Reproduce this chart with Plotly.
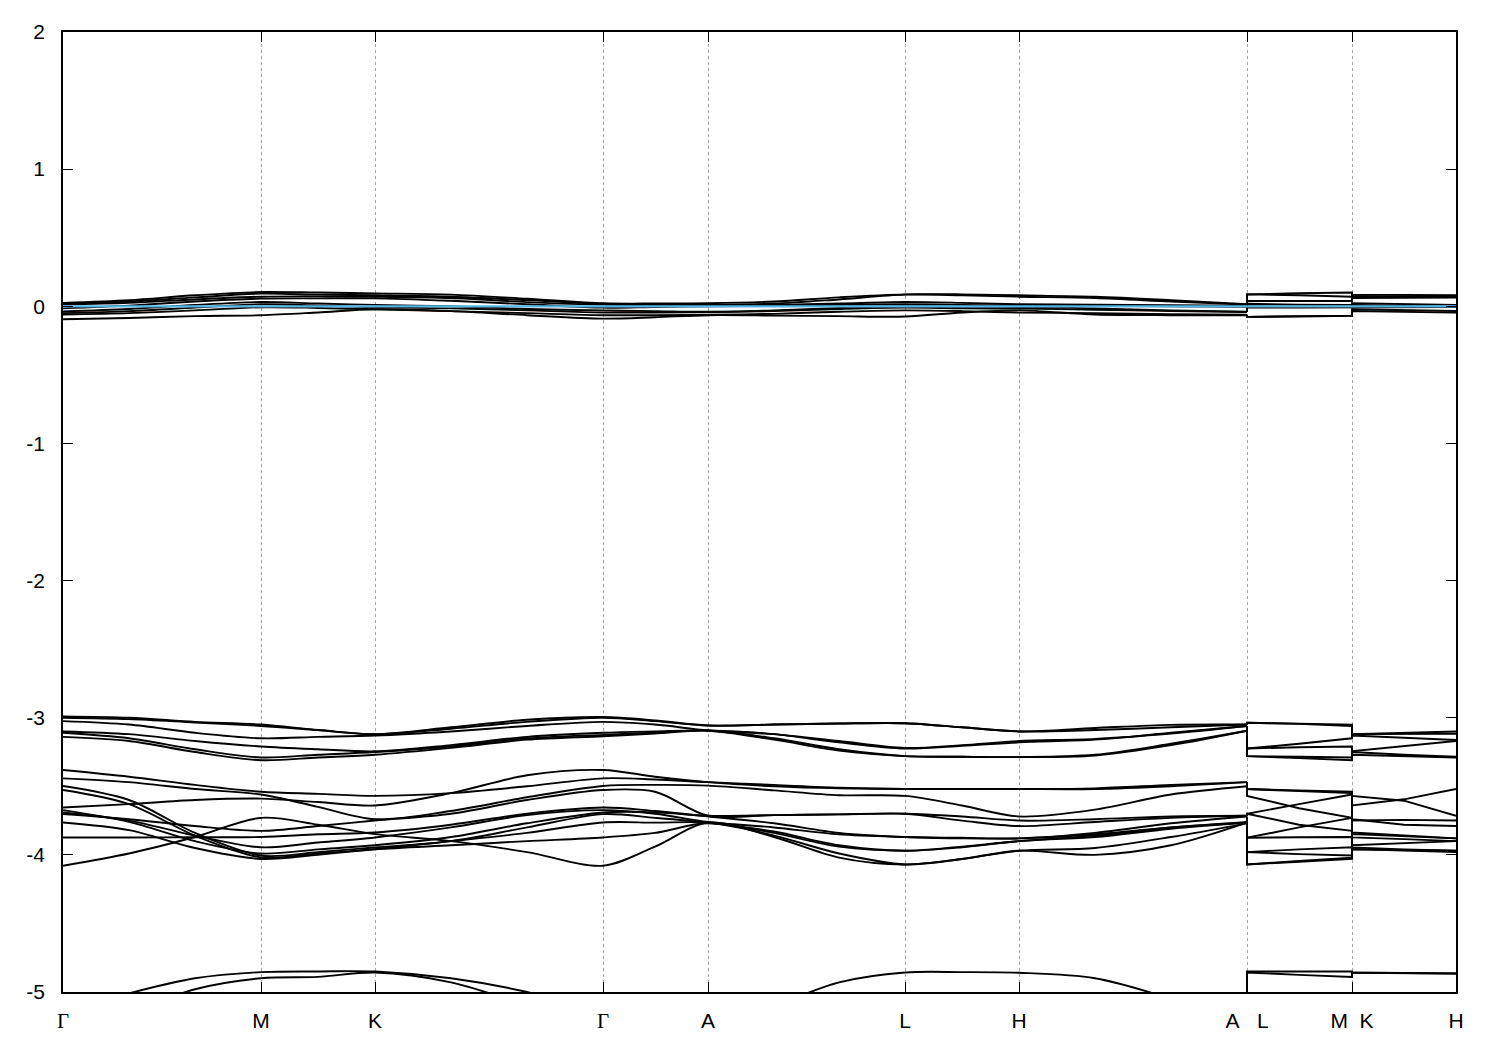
import plotly.graph_objects as go

# k-path sample positions (path length units)
K_SPL = [0, 66, 132, 198, 255, 312, 388, 464, 540, 592, 645, 711, 776, 842, 899, 956, 1032, 1108, 1184]
K_TAIL = [1184, 1184, 1236, 1289, 1289, 1341, 1393]  # A | L - M | K - H

GAMMA = "<span style='font-family:Liberation Serif, Times New Roman, serif'>Γ</span>"
TICK_K = [0, 198, 312, 540, 645, 842, 956, 1184, 1289, 1393]
TICK_LABELS = [GAMMA, "M", "K", GAMMA, "A", "L", "H", "A\u00a0\u00a0\u00a0L", "M\u00a0\u00a0K", "H"]

Y_TICKS = [-5, -4, -3, -2, -1, 0, 1, 2]
Y_LABELS = ["-5", "-4", "-3", "-2", "-1", "0", "1", "2"]

FERMI = 0.0

# band energies: 19 values along Γ-M-K-Γ-A-L-H-A, then L, mid, M, K, mid, H
N1 = [0.025, 0.045, 0.08, 0.104, 0.10, 0.094, 0.085, 0.055, 0.022, 0.02, 0.022, 0.035, 0.065, 0.087, 0.087, 0.08, 0.07, 0.045, 0.015, 0.087, 0.095, 0.10, 0.085, 0.083, 0.08]
N2 = [0.02, 0.035, 0.065, 0.092, 0.085, 0.08, 0.07, 0.045, 0.018, 0.015, 0.012, 0.02, 0.05, 0.085, 0.08, 0.07, 0.06, 0.035, 0.012, 0.087, 0.08, 0.07, 0.075, 0.072, 0.07]
N3 = [0.012, 0.025, 0.05, 0.07, 0.072, 0.07, 0.06, 0.03, 0.01, 0.008, 0.005, 0.01, 0.02, 0.031, 0.025, 0.015, 0.012, 0.008, 0.005, 0.039, 0.039, 0.039, 0.06, 0.062, 0.063]
N4 = [-0.015, 0.005, 0.035, 0.056, 0.058, 0.058, 0.04, 0.015, -0.01, -0.005, 0.0, 0.003, 0.01, 0.015, 0.01, 0.005, 0.003, 0.0, -0.003, 0.019, 0.012, 0.01, 0.022, 0.015, 0.01]
N5 = [-0.038, -0.02, 0.01, 0.031, 0.02, 0.01, 0.0, -0.02, -0.03, -0.035, -0.04, -0.03, -0.012, 0.0, -0.003, -0.005, -0.015, -0.03, -0.04, 0.0, -0.002, -0.005, 0.01, 0.002, -0.005]
N6 = [-0.05, -0.035, -0.01, 0.015, 0.005, -0.007, -0.015, -0.03, -0.045, -0.045, -0.042, -0.035, -0.02, -0.01, -0.015, -0.017, -0.025, -0.035, -0.042, -0.01, -0.01, -0.01, -0.005, -0.006, -0.005]
N7 = [-0.06, -0.05, -0.03, -0.007, -0.012, -0.022, -0.035, -0.05, -0.065, -0.065, -0.062, -0.055, -0.04, -0.03, -0.035, -0.046, -0.05, -0.058, -0.062, -0.077, -0.075, -0.07, -0.022, -0.028, -0.034]
N8 = [-0.094, -0.085, -0.072, -0.065, -0.045, -0.022, -0.035, -0.065, -0.09, -0.08, -0.065, -0.068, -0.072, -0.075, -0.045, -0.03, -0.06, -0.065, -0.065, -0.077, -0.072, -0.068, -0.034, -0.04, -0.046]

U1 = [-2.99, -3.00, -3.03, -3.05, -3.09, -3.12, -3.07, -3.015, -2.995, -3.02, -3.057, -3.05, -3.042, -3.04, -3.07, -3.10, -3.075, -3.052, -3.05, -3.037, -3.043, -3.05, -3.12, -3.11, -3.10]
U2 = [-3.00, -3.01, -3.035, -3.06, -3.09, -3.12, -3.08, -3.03, -3.00, -3.025, -3.057, -3.05, -3.042, -3.04, -3.07, -3.10, -3.09, -3.07, -3.05, -3.037, -3.045, -3.06, -3.12, -3.118, -3.117]
U3 = [-3.025, -3.05, -3.11, -3.15, -3.14, -3.13, -3.10, -3.06, -3.03, -3.05, -3.093, -3.12, -3.17, -3.22, -3.20, -3.17, -3.155, -3.115, -3.06, -3.225, -3.19, -3.15, -3.13, -3.145, -3.163]
U4 = [-3.10, -3.12, -3.17, -3.21, -3.23, -3.245, -3.20, -3.14, -3.11, -3.10, -3.093, -3.12, -3.18, -3.225, -3.205, -3.18, -3.16, -3.11, -3.06, -3.225, -3.215, -3.21, -3.245, -3.21, -3.17]
U5 = [-3.11, -3.15, -3.23, -3.29, -3.27, -3.25, -3.21, -3.15, -3.125, -3.11, -3.093, -3.15, -3.23, -3.28, -3.285, -3.287, -3.27, -3.19, -3.095, -3.28, -3.285, -3.29, -3.25, -3.27, -3.284]
U6 = [-3.14, -3.17, -3.25, -3.31, -3.29, -3.27, -3.22, -3.16, -3.135, -3.115, -3.095, -3.16, -3.24, -3.28, -3.285, -3.287, -3.275, -3.20, -3.095, -3.28, -3.295, -3.31, -3.27, -3.28, -3.29]

L1 = [-3.381, -3.43, -3.49, -3.54, -3.555, -3.57, -3.55, -3.50, -3.442, -3.45, -3.47, -3.49, -3.51, -3.52, -3.52, -3.52, -3.515, -3.49, -3.47, -3.52, -3.535, -3.55, -3.57, -3.605, -3.715]
L2 = [-3.442, -3.47, -3.52, -3.56, -3.65, -3.74, -3.68, -3.58, -3.498, -3.49, -3.495, -3.53, -3.565, -3.57, -3.64, -3.72, -3.67, -3.56, -3.50, -3.57, -3.66, -3.73, -3.74, -3.78, -3.79]
L3 = [-3.498, -3.60, -3.84, -4.005, -3.98, -3.946, -3.90, -3.80, -3.703, -3.73, -3.765, -3.83, -3.93, -3.97, -3.94, -3.90, -3.86, -3.80, -3.765, -3.98, -3.96, -3.945, -3.946, -3.96, -3.97]
L4 = [-3.527, -3.63, -3.86, -4.018, -3.99, -3.958, -3.90, -3.84, -3.764, -3.765, -3.765, -3.84, -3.94, -3.97, -3.945, -3.90, -3.87, -3.81, -3.765, -3.98, -3.995, -4.005, -3.958, -3.97, -3.98]
L5 = [-3.655, -3.63, -3.60, -3.59, -3.615, -3.64, -3.55, -3.42, -3.381, -3.43, -3.47, -3.50, -3.515, -3.52, -3.52, -3.52, -3.52, -3.50, -3.47, -3.52, -3.53, -3.54, -3.64, -3.595, -3.52]
L6 = [-3.674, -3.76, -3.90, -3.99, -3.96, -3.93, -3.87, -3.77, -3.691, -3.69, -3.72, -3.77, -3.84, -3.87, -3.875, -3.88, -3.84, -3.77, -3.72, -3.875, -3.80, -3.73, -3.93, -3.915, -3.90]
L7 = [-3.691, -3.75, -3.86, -3.945, -3.91, -3.873, -3.80, -3.71, -3.674, -3.70, -3.76, -3.80, -3.85, -3.87, -3.88, -3.88, -3.85, -3.80, -3.76, -3.875, -3.872, -3.87, -3.873, -3.885, -3.90]
L8 = [-3.703, -3.74, -3.79, -3.825, -3.79, -3.75, -3.70, -3.60, -3.527, -3.54, -3.715, -3.71, -3.705, -3.70, -3.72, -3.75, -3.74, -3.72, -3.715, -3.70, -3.63, -3.56, -3.75, -3.745, -3.75]
L9 = [-3.764, -3.82, -3.95, -4.03, -4.00, -3.96, -3.93, -3.90, -3.873, -3.84, -3.77, -3.86, -3.99, -4.07, -4.03, -3.97, -3.95, -3.87, -3.77, -4.07, -4.05, -4.03, -3.96, -3.965, -3.97]
L10 = [-3.873, -3.873, -3.872, -3.87, -3.85, -3.837, -3.78, -3.70, -3.655, -3.68, -3.715, -3.71, -3.705, -3.70, -3.75, -3.79, -3.76, -3.73, -3.715, -3.70, -3.78, -3.825, -3.837, -3.86, -3.88]
L11 = [-4.079, -3.99, -3.87, -3.73, -3.78, -3.849, -3.90, -3.98, -4.079, -3.94, -3.765, -3.87, -4.02, -4.07, -4.03, -3.97, -4.00, -3.93, -3.765, -4.07, -4.045, -4.02, -3.849, -3.865, -3.88]

B1 = [-5.15, -5.01, -4.9, -4.855, -4.85, -4.85, -4.9, -5.0, -5.15, -5.2, -5.25, -5.1, -4.93, -4.858, -4.855, -4.86, -4.9, -5.05, -5.25, -4.85, -4.85, -4.85, -4.86, -4.86, -4.865]
B2 = [-5.3, -5.15, -4.98, -4.90, -4.89, -4.858, -4.93, -5.1, -5.3, -5.4, -5.45, -5.4, -5.35, -5.3, -5.3, -5.3, -5.35, -5.4, -5.45, -4.858, -4.875, -4.89, -4.858, -4.862, -4.865]

BANDS = [N1, N2, N3, N4, N5, N6, N7, N8, U1, U2, U3, U4, U5, U6,
         L1, L2, L3, L4, L5, L6, L7, L8, L9, L10, L11, B1, B2]

fig = go.Figure()
n = len(K_SPL)
for band in BANDS:
    fig.add_trace(go.Scatter(x=K_SPL, y=band[:n], mode="lines",
                             line=dict(color="black", width=1.9, shape="spline", smoothing=0.9),
                             hoverinfo="skip", showlegend=False))
    fig.add_trace(go.Scatter(x=K_TAIL, y=band[n - 1:], mode="lines",
                             line=dict(color="black", width=1.9),
                             hoverinfo="skip", showlegend=False))

fig.add_trace(go.Scatter(x=[TICK_K[0], TICK_K[-1]], y=[FERMI, FERMI], mode="lines",
                         line=dict(color="#56b4e9", width=2.2),
                         hoverinfo="skip", showlegend=False))

axis_common = dict(showline=True, linecolor="black", linewidth=1.6, mirror="ticks",
                   ticks="inside", ticklen=10, tickwidth=1.3, tickcolor="black",
                   zeroline=False,
                   tickfont=dict(family="Liberation Sans, Arial, sans-serif", size=21, color="black"))

fig.update_xaxes(range=[TICK_K[0], TICK_K[-1]], tickmode="array", tickvals=TICK_K, ticktext=TICK_LABELS,
                 showgrid=True, gridcolor="#a8a8a8", gridwidth=1, griddash="dot",
                 ticklabelstandoff=9, **axis_common)
fig.update_yaxes(range=[-5, 2], tickmode="array", tickvals=Y_TICKS, ticktext=Y_LABELS,
                 showgrid=False, ticklabelstandoff=12, **axis_common)

# page body adds an 8px offset; margins compensate so the frame sits at x 63-1456, y 28-992
fig.update_layout(width=1500, height=1050, plot_bgcolor="white", paper_bgcolor="white",
                  margin=dict(l=55, r=52, t=20, b=66), showlegend=False)

fig.write_html("out.html")
